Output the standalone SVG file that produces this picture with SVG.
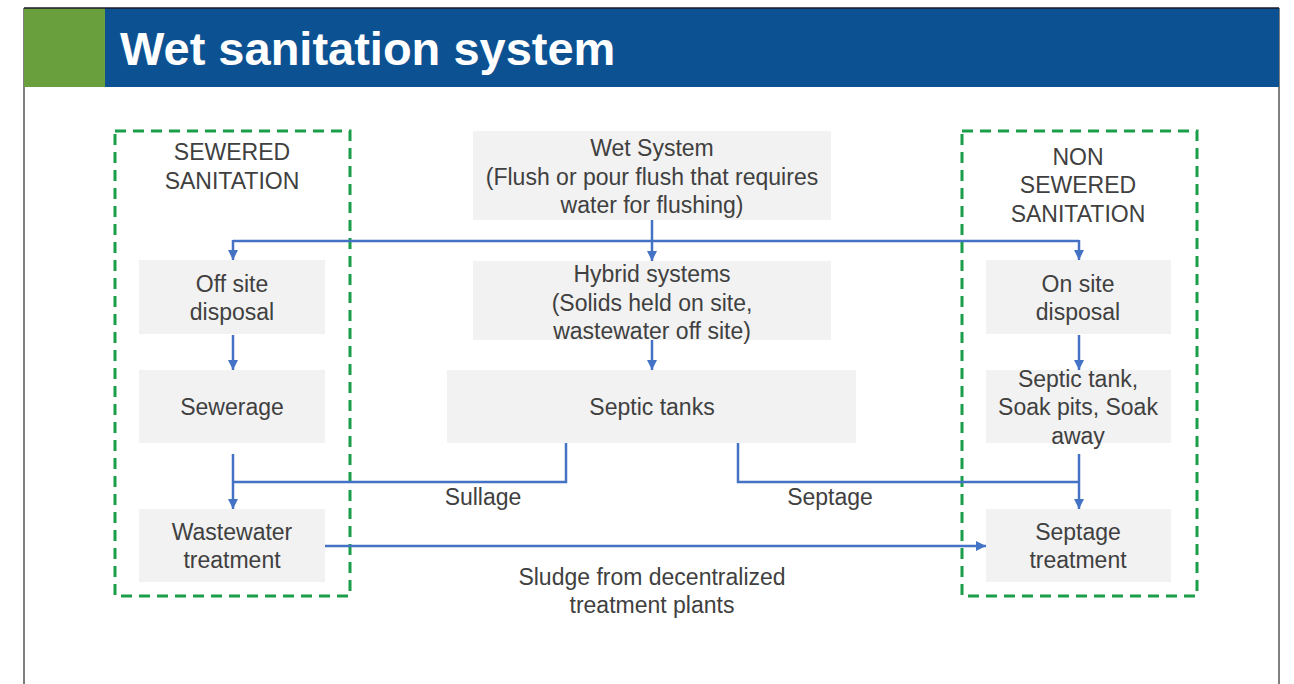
<svg xmlns="http://www.w3.org/2000/svg" width="1294" height="684" viewBox="0 0 1294 684">
<style>
.node{fill:#f2f2f2}
.t{font-family:"Liberation Sans",Arial,sans-serif;font-size:23px;fill:#404040;text-anchor:middle}
.c{fill:none;stroke:#4472c4;stroke-width:2.5}
.d{fill:none;stroke:#1a9e4a;stroke-width:3;stroke-dasharray:11 7}
</style>
<defs>
<marker id="ah" viewBox="0 0 10 10" refX="10" refY="5" markerWidth="4" markerHeight="4" orient="auto" markerUnits="strokeWidth">
<path d="M0,0 L10,5 L0,10 z" fill="#4472c4"/>
</marker>
</defs>
<rect x="0" y="0" width="1294" height="684" fill="#ffffff"/>
<g id="frame">
<line x1="24" y1="8" x2="24" y2="684" stroke="#808080" stroke-width="2"/>
<line x1="1279" y1="8" x2="1279" y2="684" stroke="#808080" stroke-width="2"/>
<rect x="24" y="8" width="81" height="79" fill="#6a9f3e"/>
<rect x="105" y="8" width="1174" height="79" fill="#0c5293"/>
<line x1="24" y1="8" x2="1279" y2="8" stroke="#1a1a2a" stroke-width="1.5"/>
<text x="120" y="65" font-family="'Liberation Sans',Arial,sans-serif" font-size="47" font-weight="bold" fill="#ffffff">Wet sanitation system</text>
</g>
<g id="sewered-group">
<rect class="d" x="115" y="131" width="235" height="465"/>
<text class="t" x="232" y="160">SEWERED</text>
<text class="t" x="232" y="189">SANITATION</text>
</g>
<g id="nonsewered-group">
<rect class="d" x="962" y="131" width="235" height="465"/>
<text class="t" x="1078" y="165">NON</text>
<text class="t" x="1078" y="193">SEWERED</text>
<text class="t" x="1078" y="222">SANITATION</text>
</g>
<g id="connectors">
<polyline class="c" points="233,241 1079,241"/>
<line class="c" x1="233" y1="240" x2="233" y2="260" marker-end="url(#ah)"/>
<line class="c" x1="1079" y1="240" x2="1079" y2="260" marker-end="url(#ah)"/>
<line class="c" x1="652" y1="220" x2="652" y2="261" marker-end="url(#ah)"/>
<line class="c" x1="652" y1="340" x2="652" y2="370" marker-end="url(#ah)"/>
<line class="c" x1="233" y1="335" x2="233" y2="370" marker-end="url(#ah)"/>
<line class="c" x1="1079" y1="335" x2="1079" y2="370" marker-end="url(#ah)"/>
<line class="c" x1="233" y1="454" x2="233" y2="509" marker-end="url(#ah)"/>
<polyline class="c" points="566,443 566,482 233,482"/>
<polyline class="c" points="738,443 738,482 1079,482"/>
<line class="c" x1="1079" y1="454" x2="1079" y2="509" marker-end="url(#ah)"/>
<line class="c" x1="325" y1="546" x2="986" y2="546" marker-end="url(#ah)"/>
<text class="t" x="483" y="505">Sullage</text>
<text class="t" x="830" y="505">Septage</text>
<text class="t" x="652" y="585">Sludge from decentralized</text>
<text class="t" x="652" y="613">treatment plants</text>
</g>
<g id="wet-system">
<rect class="node" x="473" y="131" width="358" height="89"/>
<text class="t" x="652" y="156">Wet System</text>
<text class="t" x="652" y="185">(Flush or pour flush that requires</text>
<text class="t" x="652" y="213">water for flushing)</text>
</g>
<g id="hybrid">
<rect class="node" x="473" y="261" width="358" height="79"/>
<text class="t" x="652" y="282">Hybrid systems</text>
<text class="t" x="652" y="311">(Solids held on site,</text>
<text class="t" x="652" y="339">wastewater off site)</text>
</g>
<g id="septic-tanks">
<rect class="node" x="447" y="370" width="409" height="73"/>
<text class="t" x="652" y="415">Septic tanks</text>
</g>
<g id="off-site">
<rect class="node" x="139" y="260" width="186" height="74"/>
<text class="t" x="232" y="292">Off site</text>
<text class="t" x="232" y="320">disposal</text>
</g>
<g id="sewerage">
<rect class="node" x="139" y="370" width="186" height="73"/>
<text class="t" x="232" y="415">Sewerage</text>
</g>
<g id="wastewater">
<rect class="node" x="139" y="509" width="186" height="73"/>
<text class="t" x="232" y="540">Wastewater</text>
<text class="t" x="232" y="568">treatment</text>
</g>
<g id="on-site">
<rect class="node" x="986" y="260" width="185" height="74"/>
<text class="t" x="1078" y="292">On site</text>
<text class="t" x="1078" y="320">disposal</text>
</g>
<g id="septic-soak">
<rect class="node" x="986" y="370" width="185" height="73"/>
<text class="t" x="1078" y="387">Septic tank,</text>
<text class="t" x="1078" y="415">Soak pits, Soak</text>
<text class="t" x="1078" y="444">away</text>
</g>
<g id="septage-treatment">
<rect class="node" x="986" y="509" width="185" height="73"/>
<text class="t" x="1078" y="540">Septage</text>
<text class="t" x="1078" y="568">treatment</text>
</g>
</svg>
